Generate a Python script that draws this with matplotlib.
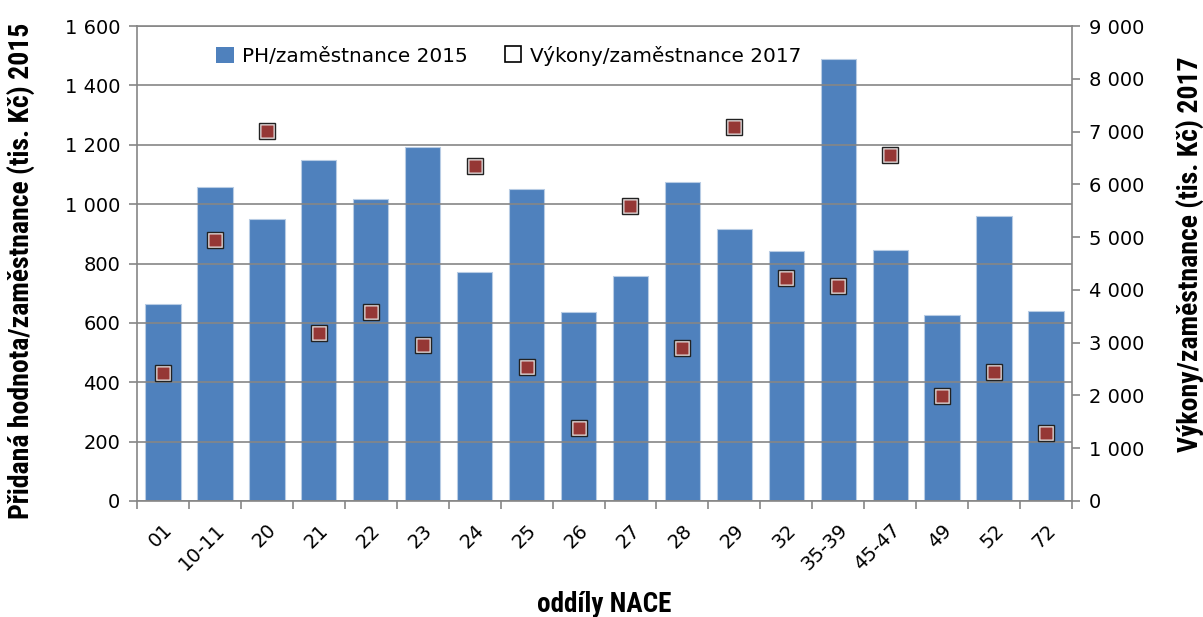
import numpy as np
import matplotlib.pyplot as plt
from matplotlib.patches import Patch
from matplotlib.lines import Line2D
from matplotlib import font_manager as fm

# data
nace = ['01', '10-11', '20', '21', '22', '23', '24', '25', '26', '27', '28', '29',
        '32', '35-39', '45-47', '49', '52', '72']
ph_2015 = [665, 1059, 950, 1147, 1018, 1192, 772, 1051, 638, 759, 1073, 917,
           841, 1488, 846, 628, 960, 639]
vykony_2017 = [2431, 4946, 7018, 3184, 3582, 2950, 6354, 2545, 1383, 5590, 2893, 7087,
               4232, 4068, 6557, 1990, 2451, 1295]
left_ticks = [0, 200, 400, 600, 800, 1000, 1200, 1400, 1600]
right_ticks = [0, 1000, 2000, 3000, 4000, 5000, 6000, 7000, 8000, 9000]

blue = '#4f81bd'
red = '#953735'
grey = '#868686'

names = sorted(set(f.name for f in fm.fontManager.ttflist))
title_font = 'DejaVu Sans'
title_size = 14
for cand, size in [('DejaVu Sans Condensed', 19), ('Liberation Sans Narrow', 20.5),
                   ('Roboto Condensed', 20), ('Open Sans Condensed', 20)]:
    if cand in names:
        title_font, title_size = cand, size
        break

plt.rcParams['font.family'] = ['DejaVu Sans']

def fmt(v):
    return f'{v:,.0f}'.replace(',', ' ')

W, H = 1203, 617
fig = plt.figure(figsize=(W / 100, H / 100), dpi=100)
ax = fig.add_axes([137 / W, 1 - 501 / H, 935 / W, 475 / H])
x = np.arange(len(nace))

ax.bar(x, ph_2015, width=0.68, color=blue, edgecolor='#b8cce4', linewidth=0.8, zorder=1)
ax.set_xlim(-0.5, len(nace) - 0.5)
ax.set_ylim(0, 1600)
ax.set_yticks(left_ticks)
ax.set_yticklabels([fmt(v) for v in left_ticks], fontsize=14)
ax.set_axisbelow(False)
ax.grid(axis='y', color=grey, linewidth=1.2)
ax.set_xticks(x)
ax.set_xticklabels(nace, fontsize=14, rotation=45, ha='right', va='top', rotation_mode='anchor')
ax.set_xticks(np.arange(-0.5, len(nace)), minor=True)
ax.tick_params(axis='x', which='major', length=0, pad=14)
ax.tick_params(axis='x', which='minor', length=6, color=grey, width=1.2)
ax.tick_params(axis='y', length=6, color=grey, width=1.2, pad=6)
for s in ['left', 'bottom', 'top']:
    ax.spines[s].set_color(grey)
    ax.spines[s].set_linewidth(1.2)
ax.spines['right'].set_visible(False)

ax.set_ylabel('Přidaná hodnota/zaměstnance (tis. Kč) 2015', family=title_font,
              fontsize=title_size, fontweight='bold')
ax.yaxis.set_label_coords(-(137 - 35) / 935, 0.485)
ax.set_xlabel('oddíly NACE', family=title_font, fontsize=title_size - 0.5, fontweight='bold')
ax.xaxis.set_label_coords(0.5, -(591 - 501) / 475)

ax2 = ax.twinx()
ax2.set_ylim(0, 9000)
ax2.set_yticks(right_ticks)
ax2.set_yticklabels([fmt(v) for v in right_ticks], fontsize=14)
ax2.tick_params(axis='y', length=6, color=grey, width=1.2, pad=6)
for s in ['left', 'bottom', 'top']:
    ax2.spines[s].set_visible(False)
ax2.spines['right'].set_color(grey)
ax2.spines['right'].set_linewidth(1.2)
ax2.plot(x, vykony_2017, linestyle='none', marker='s', markersize=11.5,
         markerfacecolor='#e6dede', markeredgecolor='#222222', markeredgewidth=1.0)
ax2.plot(x, vykony_2017, linestyle='none', marker='s', markersize=8.5,
         markerfacecolor=red, markeredgecolor='none')
ax2.set_ylabel('Výkony/zaměstnance (tis. Kč) 2017', family=title_font, fontsize=title_size,
               fontweight='bold', rotation=90)
ax2.yaxis.set_label_coords(1 + (1176 - 1072) / 935, 0.52)

handles = [Patch(facecolor=blue, edgecolor='none'),
           Line2D([], [], linestyle='none', marker='s', markersize=12,
                  markerfacecolor='white', markeredgecolor='black', markeredgewidth=1.2)]
fig.legend(handles, ['PH/zaměstnance 2015', 'Výkony/zaměstnance 2017'], ncol=2,
           loc='center left', bbox_to_anchor=(198 / W, 1 - 56 / H), frameon=False,
           fontsize=14.4, handlelength=0.9, handleheight=0.9, handletextpad=0.4,
           columnspacing=1.8)

fig.savefig('out.png', dpi=100)
